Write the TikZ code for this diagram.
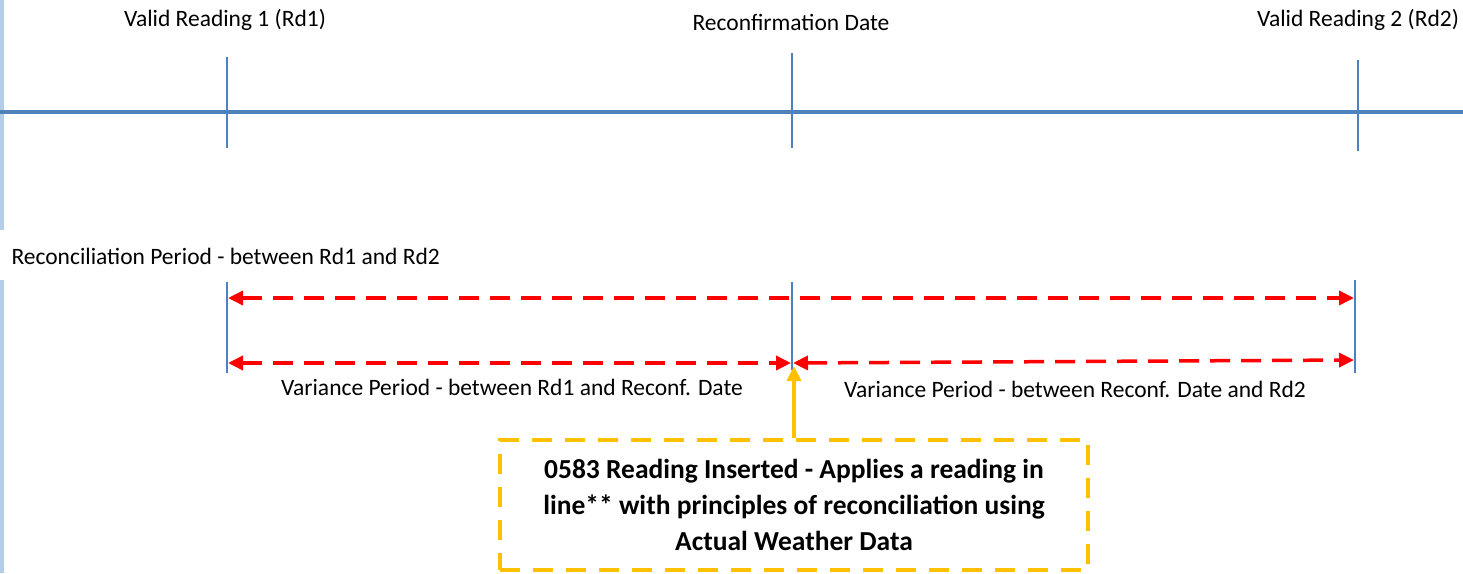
\documentclass[tikz,border=0pt]{standalone}
\usepackage{fontspec}
\setmainfont{Carlito}
\usepackage{tikz}
\usetikzlibrary{arrows.meta,positioning}

\definecolor{axisblue}{RGB}{79,129,189}
\definecolor{edgeblue}{RGB}{180,205,232}
\definecolor{periodred}{RGB}{255,0,0}
\definecolor{noteorange}{RGB}{255,192,0}

\begin{document}
\begin{tikzpicture}[x=1pt,y=-1pt,>={Triangle[length=15pt,width=14pt]},
	label/.style={font=\fontsize{23.5}{28}\selectfont},
	tick/.style={axisblue,line width=1.5pt},
	period/.style={<->,periodred,line width=3.5pt,dash pattern=on 20pt off 11pt},
	notebox/.style={draw=noteorange,line width=4.5pt,dash pattern=on 20pt off 13pt,
		minimum width=588pt,minimum height=130pt,align=center,
		font=\fontsize{27.5}{36}\selectfont\bfseries}]
	\useasboundingbox (0,0) rectangle (1463,573);
	% window edge
	\fill[edgeblue] (0,0) rectangle (4,230);
	\fill[edgeblue] (0,280) rectangle (4,573);
	% time line
	\draw[axisblue,line width=4pt] (0,112) -- (1463,112);
	\draw[tick] (227,57) -- (227,148);
	\draw[tick] (792,53) -- (792,148);
	\draw[tick] (1358,60) -- (1358,151);
	\node[label] (rd1) at (225,20) {Valid Reading 1 (Rd1)};
	\node[label] (reconf) at (791,22) {Reconfirmation Date};
	\node[label] (rd2) at (1358,20) {Valid Reading 2 (Rd2)};
	% periods
	\node[label,anchor=west] (recperiod) at (8,256) {Reconciliation Period - between Rd1 and Rd2};
	\draw[tick] (227,282) -- (227,373);
	\draw[tick] (792,282) -- (792,370);
	\draw[tick] (1355,280) -- (1355,373);
	\coordinate (rpL) at (228,298);
	\coordinate (rpR) at (1354,298);
	\coordinate (vaL) at (228,363);
	\coordinate (vaM) at (791,363);
	\coordinate (vbM) at (793,363);
	\coordinate (vbR) at (1354,360);
	\draw[period] (rpL) -- (rpR);
	\draw[period] (vaL) -- (vaM);
	\draw[period] (vbM) -- (vbR);
	\node[label] (var1) at (512,387) {Variance Period - between Rd1 and Reconf. Date};
	\node[label] (var2) at (1075,389) {Variance Period - between Reconf. Date and Rd2};
	% inserted reading
	\node[notebox] (note) at (794,505) {0583 Reading Inserted - Applies a reading in\\line** with principles of reconciliation using\\Actual Weather Data};
	\coordinate (insert) at (794,366);
	\draw[->,noteorange,line width=4.5pt] (note.north) -- (insert);
\end{tikzpicture}
\end{document}
